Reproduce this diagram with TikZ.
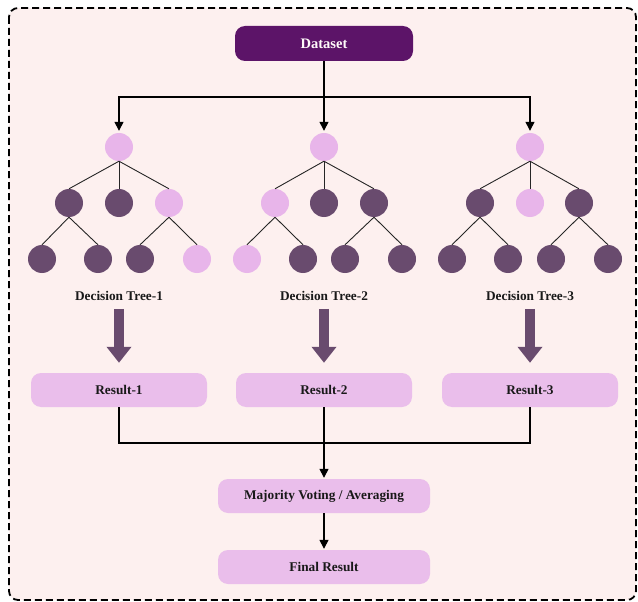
\documentclass[tikz,border=0pt]{standalone}
\usepackage{fontspec}
\setmainfont{Liberation Serif}
\usetikzlibrary{arrows.meta}
\definecolor{bgpink}{HTML}{FDF0EF}
\definecolor{dsviolet}{HTML}{5C1468}
\definecolor{darknode}{HTML}{694B6E}
\definecolor{lightnode}{HTML}{E8B5EA}
\definecolor{boxfill}{HTML}{EABEEB}
\tikzset{
  dk/.style={circle, fill=darknode, minimum size=28pt, inner sep=0pt},
  lt/.style={circle, fill=lightnode, minimum size=28pt, inner sep=0pt},
  edge/.style={draw=black!85, line width=0.9pt},
  arr/.style={draw=black, line width=1.4pt, -{Triangle[length=9pt,width=9pt]}},
  plain/.style={draw=black, line width=1.4pt},
  rbox/.style={rounded corners=10pt, fill=boxfill, minimum width=176pt, minimum height=34pt, inner sep=0pt, font=\fontsize{13.3}{15}\selectfont\bfseries, text=black!90},
  wbox/.style={rounded corners=10pt, fill=boxfill, minimum width=212pt, minimum height=34pt, inner sep=0pt, font=\fontsize{13.3}{15}\selectfont\bfseries, text=black!90},
  lbl/.style={font=\fontsize{13.3}{15}\selectfont\bfseries, text=black!90, inner sep=1pt},
  bigarr/.style={draw=darknode, line width=10pt, -{Triangle[length=16pt,width=24pt]}, shorten >=10pt},
}
\begin{document}
\begin{tikzpicture}[x=1pt, y=-1pt]
\useasboundingbox (0,0) rectangle (638,602);
\fill[white] (0,0) rectangle (638,602);
\draw[fill=bgpink, line width=1.8pt, dash pattern=on 7pt off 4pt, rounded corners=9pt] (9,8) rectangle (636,600);

% Dataset
\node[rounded corners=10pt, fill=dsviolet, minimum width=178pt, minimum height=35pt, inner sep=0pt, font=\fontsize{14.5}{16}\selectfont\bfseries, text=white!92!pink] (ds) at (324,43.5) {Dataset};

% Tree 1
\node[lt] (a0) at (119,147) {};
\node[dk] (a1) at (69,203) {};
\node[dk] (a2) at (119,203) {};
\node[lt] (a3) at (169,203) {};
\node[dk] (a4) at (42,259) {};
\node[dk] (a5) at (98,259) {};
\node[dk] (a6) at (140,259) {};
\node[lt] (a7) at (197,259) {};
% Tree 2
\node[lt] (b0) at (324,147) {};
\node[lt] (b1) at (275,203) {};
\node[dk] (b2) at (324,203) {};
\node[dk] (b3) at (374,203) {};
\node[lt] (b4) at (247,259) {};
\node[dk] (b5) at (303,259) {};
\node[dk] (b6) at (345,259) {};
\node[dk] (b7) at (402,259) {};
% Tree 3
\node[lt] (c0) at (530,147) {};
\node[dk] (c1) at (480,203) {};
\node[lt] (c2) at (530,203) {};
\node[dk] (c3) at (579,203) {};
\node[dk] (c4) at (452,259) {};
\node[dk] (c5) at (508,259) {};
\node[dk] (c6) at (551,259) {};
\node[dk] (c7) at (608,259) {};

\foreach \t in {a,b,c}{
  \draw[edge] (\t0.south) -- (\t1.north);
  \draw[edge] (\t0.south) -- (\t2.north);
  \draw[edge] (\t0.south) -- (\t3.north);
  \draw[edge] (\t1.south) -- (\t4.north);
  \draw[edge] (\t1.south) -- (\t5.north);
  \draw[edge] (\t3.south) -- (\t6.north);
  \draw[edge] (\t3.south) -- (\t7.north);
}

% Labels
\node[lbl] (l1) at (119,296) {Decision Tree-1};
\node[lbl] (l2) at (324,296) {Decision Tree-2};
\node[lbl] (l3) at (530,296) {Decision Tree-3};

% Results
\node[rbox] (r1) at (119,390) {Result-1};
\node[rbox] (r2) at (324,390) {Result-2};
\node[rbox] (r3) at (530,390) {Result-3};

% Big arrows
\draw[bigarr] ([yshift=-7pt]l1.south) -- (r1.north);
\draw[bigarr] ([yshift=-7pt]l2.south) -- (r2.north);
\draw[bigarr] ([yshift=-7pt]l3.south) -- (r3.north);

% Majority & final
\node[wbox] (mv) at (324,496) {Majority Voting / Averaging};
\node[wbox] (fr) at (324,567) {Final Result};

% Connectors from Dataset
\coordinate (split) at (324,97);
\draw[plain] (ds.south) -- (split);
\draw[arr] (split) -| ([yshift=2pt]a0.north);
\draw[arr] (split) -- ([yshift=2pt]b0.north);
\draw[arr] (split) -| ([yshift=2pt]c0.north);

% Connectors from results
\coordinate (join) at (324,443);
\draw[plain] (r1.south) |- (join);
\draw[plain] (r3.south) |- (join);
\draw[plain] (r2.south) -- (join);
\draw[arr] (join) -- ([yshift=1pt]mv.north);
\draw[arr] (mv.south) -- ([yshift=1pt]fr.north);
\end{tikzpicture}
\end{document}
